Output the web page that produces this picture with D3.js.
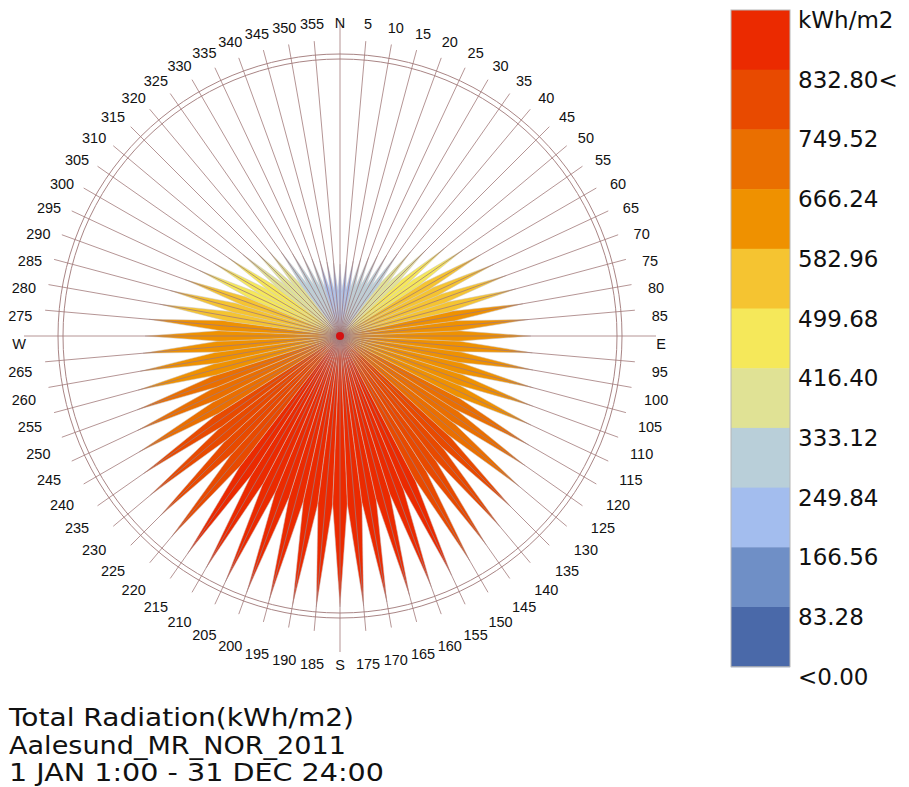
<!DOCTYPE html>
<html>
<head>
<meta charset="utf-8">
<script src="https://cdn.jsdelivr.net/npm/d3@7"></script>
<style>
  body { margin: 0; background: #fff; }
  svg { display: block; }
</style>
</head>
<body>
<div id="chart"></div>
<script>
// directions, every 5 degrees clockwise from north
const directions = d3.range(0, 360, 5);

// total radiation per direction (kWh/m2)
const radiation = [
  227, 234, 240, 253, 265, 278, 294, 316, 347, 385, 430, 474,
  512, 537, 559, 575, 587, 597, 603, 610, 619, 632, 648, 666,
  689, 714, 739, 764, 786, 805, 821, 834, 843, 850, 853, 856,
  856, 859, 862, 865, 862, 856, 846, 840, 828, 805, 783, 758,
  733, 707, 682, 660, 641, 625, 616, 606, 578, 556, 521, 490,
  461, 430, 401, 373, 347, 322, 300, 278, 259, 246, 237, 231
];

// legend
const legendLabels = ["kWh/m2", "832.80<", "749.52", "666.24", "582.96", "499.68",
  "416.40", "333.12", "249.84", "166.56", "83.28", "<0.00"];
const legendBreaks = [83.28, 166.56, 249.84, 333.12, 416.40, 499.68, 582.96, 666.24, 749.52, 832.80];
const legendColors = ["#4a69a9", "#6f8fc6", "#a3bdee", "#b9cfd9", "#e0e295", "#f5e85a",
  "#f5c431", "#ef9100", "#ea6f00", "#e84a00", "#eb2a00"];
const maxValue = 916.08;

const titleLines = ["Total Radiation(kWh/m2)", "Aalesund_MR_NOR_2011", "1 JAN 1:00 - 31 DEC 24:00"];
const titleWidths = [345, 337, 375];

const width = 909, height = 787;
const cx = 340, cy = 336;

const svg = d3.select("#chart").append("svg")
  .attr("width", width)
  .attr("height", height);

const color = d3.scaleThreshold().domain(legendBreaks).range(legendColors);
const rScale = d3.scaleLinear().domain([0, maxValue]).range([0, 290]);
const toRad = (deg) => deg * Math.PI / 180;
const half = 2.5;

const rose = svg.append("g").attr("transform", `translate(${cx},${cy})`);

const data = directions.map((d, i) => ({ dir: d, value: radiation[i] }));

// petals: kite shape from the centre out to the tip
const petal = d3.lineRadial()
  .angle((p) => toRad(p[0]))
  .radius((p) => p[1])
  .curve(d3.curveLinearClosed);

rose.selectAll("path.petal")
  .data(data.slice().sort((a, b) => b.value - a.value))
  .enter()
  .append("path")
  .attr("class", "petal")
  .attr("d", (d) => {
    const r = rScale(d.value);
    return petal([[d.dir, 0], [d.dir - half, r * 0.62], [d.dir, r], [d.dir + half, r * 0.62]]);
  })
  .attr("fill", (d) => color(d.value))
  .attr("stroke", "#c9c2c2")
  .attr("stroke-width", 0.5);

// compass circles
rose.selectAll("circle.ring")
  .data([277, 282])
  .enter()
  .append("circle")
  .attr("class", "ring")
  .attr("r", (d) => d)
  .attr("fill", "none")
  .attr("stroke", "#a98585")
  .attr("stroke-width", 1);

// radial lines
const isCardinal = (d) => d % 90 === 0;
rose.selectAll("line.spoke")
  .data(directions)
  .enter()
  .append("line")
  .attr("class", "spoke")
  .attr("x1", 0)
  .attr("y1", 0)
  .attr("x2", (d) => (isCardinal(d) ? 316 : 296) * Math.sin(toRad(d)))
  .attr("y2", (d) => -(isCardinal(d) ? 316 : 296) * Math.cos(toRad(d)))
  .attr("stroke", "#a27a7a")
  .attr("stroke-width", 0.8);

// centre point
rose.append("circle")
  .attr("r", 4)
  .attr("fill", "#d41010");

// direction labels
const names = { 0: "N", 90: "E", 180: "S", 270: "W" };
rose.selectAll("text.dir")
  .data(directions)
  .enter()
  .append("text")
  .attr("class", "dir")
  .attr("x", (d) => 321 * Math.sin(toRad(d)))
  .attr("y", (d) => -321 * Math.cos(toRad(d)) + 8)
  .attr("text-anchor", "middle")
  .attr("dominant-baseline", "central")
  .attr("font-family", "Liberation Sans, Arial, sans-serif")
  .attr("font-size", "14.5px")
  .attr("fill", "#111")
  .text((d) => names[d] || d);

// legend
const bandH = 59.7;
const legend = svg.append("g").attr("transform", "translate(731,10)");

legend.selectAll("rect")
  .data(legendColors.slice().reverse())
  .enter()
  .append("rect")
  .attr("x", 0)
  .attr("y", (d, i) => i * bandH)
  .attr("width", 59)
  .attr("height", bandH + 0.5)
  .attr("fill", (d) => d);

legend.append("rect")
  .attr("width", 59)
  .attr("height", bandH * 11)
  .attr("fill", "none")
  .attr("stroke", "#b5b5b5")
  .attr("stroke-width", 1);

legend.selectAll("text")
  .data(legendLabels)
  .enter()
  .append("text")
  .attr("x", 67)
  .attr("y", (d, i) => i * bandH + 10)
  .attr("dominant-baseline", "central")
  .attr("font-family", "DejaVu Sans, Verdana, sans-serif")
  .attr("font-size", "23px")
  .attr("fill", "#111")
  .text((d) => d);

// title
svg.selectAll("text.title")
  .data(titleLines)
  .enter()
  .append("text")
  .attr("class", "title")
  .attr("x", 9)
  .attr("y", (d, i) => 726 + i * 27.5)
  .attr("font-family", "DejaVu Sans, Verdana, sans-serif")
  .attr("font-size", "25px")
  .attr("textLength", (d, i) => titleWidths[i])
  .attr("lengthAdjust", "spacingAndGlyphs")
  .attr("fill", "#111")
  .text((d) => d);
</script>
</body>
</html>
